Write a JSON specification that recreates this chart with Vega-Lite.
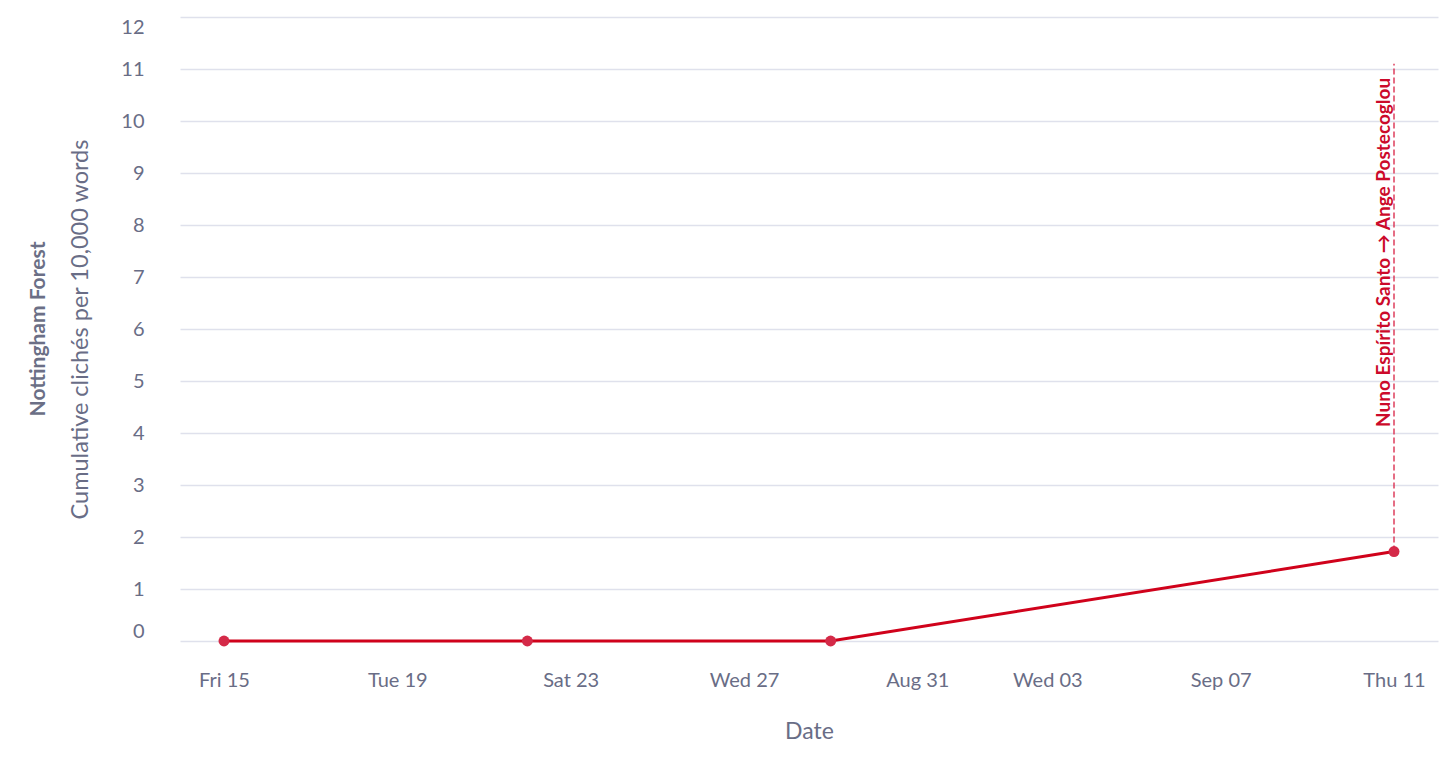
{
  "$schema": "https://vega.github.io/schema/vega-lite/v6.json",
  "width": 1258,
  "height": 624,
  "autosize": {"type": "none"},
  "padding": {"left": 180, "top": 17, "right": 18, "bottom": 120},
  "background": "white",
  "title": {
    "text": "Nottingham Forest",
    "orient": "left",
    "anchor": "middle",
    "frame": "group",
    "font": "Lato",
    "fontSize": 21,
    "fontWeight": "bold",
    "color": "#6b6f86",
    "offset": 19
  },
  "config": {"view": {"stroke": null}, "font": "Lato"},
  "datasets": {
    "series": [
      {"date": "2025-08-15", "value": 0},
      {"date": "2025-08-22", "value": 0},
      {"date": "2025-08-29", "value": 0},
      {"date": "2025-09-11", "value": 1.72}
    ],
    "events": [
      {"date": "2025-09-11", "from": 1.72, "to": 11.1, "label": "Nuno Espírito Santo → Ange Postecoglou"}
    ]
  },
  "layer": [
    {
      "data": {"name": "series"},
      "mark": {"type": "line", "color": "#d0021b", "strokeWidth": 3},
      "encoding": {
        "x": {
          "field": "date",
          "type": "temporal",
          "scale": {
            "type": "utc",
            "domain": [
              {"year": 2025, "month": 8, "date": 13, "hours": 23, "minutes": 38, "utc": true},
              {"year": 2025, "month": 9, "date": 12, "hours": 0, "minutes": 22, "utc": true}
            ]
          },
          "axis": {
            "values": [
              {"year": 2025, "month": 8, "date": 15, "utc": true},
              {"year": 2025, "month": 8, "date": 19, "utc": true},
              {"year": 2025, "month": 8, "date": 23, "utc": true},
              {"year": 2025, "month": 8, "date": 27, "utc": true},
              {"year": 2025, "month": 8, "date": 31, "utc": true},
              {"year": 2025, "month": 9, "date": 3, "utc": true},
              {"year": 2025, "month": 9, "date": 7, "utc": true},
              {"year": 2025, "month": 9, "date": 11, "utc": true}
            ],
            "labelExpr": "(utcdate(datum.value) == 31 || (utcmonth(datum.value) == 8 && utcdate(datum.value) == 7)) ? utcFormat(datum.value, '%b %d') : utcFormat(datum.value, '%a %d')",
            "grid": false,
            "domain": false,
            "ticks": false,
            "labelFlush": false,
            "labelPadding": 29,
            "labelFontSize": 20,
            "labelColor": "#696d86",
            "labelFont": "Lato",
            "title": "Date",
            "titleFont": "Lato",
            "titleFontSize": 23,
            "titleFontWeight": "normal",
            "titleColor": "#696d86",
            "titleY": 90,
            "titleBaseline": "middle"
          }
        },
        "y": {
          "field": "value",
          "type": "quantitative",
          "scale": {"domain": [0, 12], "nice": false, "zero": false},
          "axis": {
            "values": [0, 1, 2, 3, 4, 5, 6, 7, 8, 9, 10, 11, 12],
            "grid": true,
            "gridColor": "#dfe1ec",
            "gridWidth": 1.3,
            "domain": false,
            "ticks": false,
            "labelFlush": true,
            "labelPadding": 36,
            "labelFontSize": 20,
            "labelColor": "#696d86",
            "labelFont": "Lato",
            "title": "Cumulative clichés per 10,000 words",
            "titleFont": "Lato",
            "titleFontSize": 23.5,
            "titleFontWeight": "normal",
            "titleColor": "#696d86",
            "titleX": -100,
            "titleY": 312,
            "titleAngle": 270,
            "titleAlign": "center",
            "titleBaseline": "middle"
          }
        }
      }
    },
    {
      "data": {"name": "series"},
      "mark": {"type": "point", "filled": true, "size": 120, "color": "#d42a48", "opacity": 1},
      "encoding": {
        "x": {"field": "date", "type": "temporal"},
        "y": {"field": "value", "type": "quantitative"}
      }
    },
    {
      "data": {"name": "events"},
      "mark": {"type": "rule", "color": "#d9294b", "strokeWidth": 1.6, "strokeDash": [6, 3], "opacity": 0.85},
      "encoding": {
        "x": {"field": "date", "type": "temporal"},
        "y": {"field": "from", "type": "quantitative"},
        "y2": {"field": "to"}
      }
    },
    {
      "data": {"name": "events"},
      "mark": {"type": "text", "angle": 270, "align": "right", "baseline": "bottom", "dx": -14, "font": "Lato", "fontSize": 19, "fontWeight": "bold", "color": "#cc0a2a"},
      "encoding": {
        "x": {"field": "date", "type": "temporal"},
        "y": {"field": "to", "type": "quantitative"},
        "text": {"field": "label"}
      }
    }
  ]
}
